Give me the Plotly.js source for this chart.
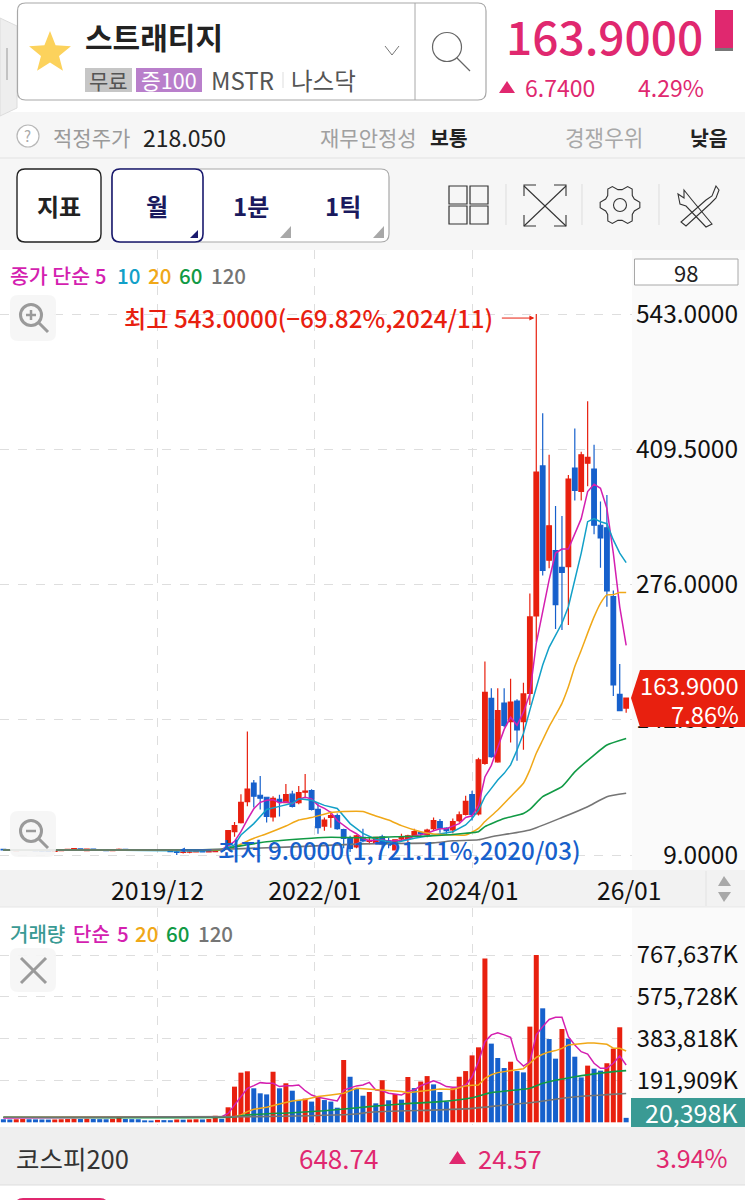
<!DOCTYPE html>
<html><head><meta charset="utf-8">
<script src="https://cdn.plot.ly/plotly-3.0.1.min.js"></script>
<style>html,body{margin:0;padding:0;background:#fff}#c{width:745px;height:1200px}</style>
</head><body><div id="c"></div>
<script>
// ---- price candles, one per month from 2017/12 to 2026/01
const opens=[14.5,14.2,13,13.6,14.4,13.8,13,13,12.6,13.2,14,14.6,15,13.4,14.8,14.4,13.8,13.4,14,14.6,14,13.6,13.8,14.2,13.8,14.4,13.6,12,11.6,11.8,12,12.4,12,12.4,13.6,19,32,41,61.6,80,68,66,46.5,64,60.6,69,60.6,71,72.5,54,37.6,46,48,34,25.5,17,26.5,22.5,21,27,23,14,25,25.5,28,31,29,35,42,35.6,33.7,43,49,68.5,49.5,99.5,163.6,101,159,140.6,161,140.6,168.6,245,393,300,309.5,293,293.6,391,368,395.7,390,334.5,332,264,167.6,154];
const highs=[15,15,14.8,15,15,14.4,14,13.6,13.8,14.8,15.2,15.8,15.4,15.4,15.4,15,14.4,15,15.4,15.2,14.6,14.4,14.8,14.6,15,15,14,14.5,13,13.2,13.4,13.4,13.4,14.4,15,33.5,41.6,69,131,83,87,66.5,67,68.5,79,72.5,77,89,74,60,46,52,50,35,28,29,35,26,27,29,26,24.5,30,29,35,32,35,46,44.5,36.5,45,52,67.5,72.5,105,200,173.5,173.5,173.5,183,162.7,179,267,543,445,404,353.5,343.6,384,430,407,457,414,358,364.4,270,197.6,163.9];
const lows=[13.5,13,12.5,13,13.4,12.6,12,12,12.2,12.8,13.6,14,13.4,13,14,13.6,13,13,13.4,13.8,13.4,13.2,13.2,13.4,13.2,13,12,9,10.5,10.8,11.4,11.6,11.6,12,13,18.5,27,40,57,56,54,41,42,47,60,56,59,65,53,30,33,36,34,15.6,12,15.6,21.5,19.7,20,15.6,15.6,13.5,22,16,27,28,26.5,33,31,30,30.5,41,48,43,48,98,105,100,135,120,102,113,157,219.6,285,292,232,231,236,359,359,373,325.6,292.6,254,166,151,149.5];
const closes=[14,13.8,14,14.4,13.8,13,12.8,12.6,13.2,14.2,14.6,15.2,14.2,14.8,14.4,13.8,13.4,14,14.6,14,13.6,13.8,14.2,13.8,14.4,13.6,12.4,11.5,11.8,12,12.4,12,12.4,13.6,14,33,38,61,74,67,65,47,65,62,68.5,57,70.5,72,54,36,43.5,48,35,25.5,15.6,28,23,23.5,26.5,20,20,24,27,28,32,30,33.7,43,35.6,33,42,48.7,62,49,103,169.6,106,151.5,137,160,132.4,168,244,387,290,334,256,288,380,369,404,401.6,334.5,322,269.6,176.8,151.5,163.9];

// ---- price moving averages: bar positions and values
const ma5Pos=[0,12,24,33,34,35,36,37,38,39,40,41,42,43,44,45,46,47,48,49,50,51,52,53,54,55,56,57,58,59,60,61,62,63,64,65,66,67,68,69,70,71,72,73,74,75,76,77,78,79,80,81,82,83,84,85,86,87,88,89,90,91,92,93,94,95,96,97];
const ma5=[14,13.6,14,13.4,14.5,18,22.4,32,44,54.6,61,63,63.6,60.4,61.5,59.5,64,66,64.4,58,55,51,43,38,33.5,30,25.4,23,23.5,24,22.6,23,23.5,24.6,28,29,30.5,33,35,35,37.5,40,46,47.7,58,86,97.5,115,133,145,137,150,168,218,251,280.5,307,311,311,326.6,341,367.7,375,371,351,307,254,216];
const ma10Pos=[0,15,30,34,36,37,39,41,43,45,46,48,50,52,54,56,58,61,64,67,70,72,73,74,75,76,77,78,79,80,81,82,83,84,85,86,87,88,89,90,91,92,93,94,95,96,97];
const ma10=[14,14,13,14,19,28.7,40,54,57,60,64.5,63,58,55,40,30.4,24.5,21,25.5,28.7,32,38.6,45,53.4,66.6,74.8,83,89.6,98,112.6,129,152,175,196.6,214,226,237.7,254,280.5,307,338,341,338,336,320,307,297.6];
const ma20Pos=[0,15,30,34,36,39,41,44,46,48,51,53,56,58,60,62,65,67,70,72,74,75,77,79,81,82,83,84,85,86,87,88,89,90,91,92,93,94,95,96,97];
const ma20=[14,14,13.6,14,17,25.5,30,37.6,43.5,46,51,52,52,47.5,43.5,38,32,29.7,28.7,28.7,35.3,42,53.4,66.6,79.8,93,109.4,122.5,135.7,147,158.7,175,195,211,228,244,257.4,265.7,266,268,268];
const ma60Pos=[0,20,34,36,41,48,51,56,61,67,72,74,75,78,81,82,84,87,89,92,94,97];
const ma60=[14,14,14.6,17,22,25.5,26.5,26,27,28,30.4,32,37,45,50,54,66.6,76.4,91,107.7,117.6,124];
const ma120Pos=[0,30,45,56,67,70,74,76,82,87,91,94,97];
const ma120=[14,14,17,20,21,23,24,27,33.7,46,56.7,66.6,70];

// ---- monthly volume (millions of shares; 1 = 1,000K) and the colour of each bar
const volume=[14,13,14,15,14,13.5,13,12.5,13,14,15,16,15,16,15,14.5,14,16,26,15,14.5,14,9,8,11,10,9.5,13,12,13,14,13,15,30,16,68.8,163.6,227.8,234,156,133,128,232,156,179,145,102,108.6,95,118,102,95,67,286,209,153,122,139,87,193,101,130,104,208,157,187,212,174,139,95,156,209,235,307,344,752,361,295,249,278,235,229,439,767.6,523,382,292,428,384,301,206,260,246,237,271,338,436,20.398];
const volumeSide="bbrrbbbbrrrrbrbbbrrbbbbbrbbrbrrbrrbrrrrbbbrbrbbrbrbbbrbbbrbrbrbrbrrbbbrrrrrrbbbrbbrrbbbrbbbrbbrrrb";

// ---- volume moving averages
const vol5Pos=[0,33,34,35,36,37,38,39,40,41,42,43,44,45,46,47,48,49,50,51,52,53,54,55,56,57,58,59,60,61,62,63,64,65,66,67,68,69,70,71,72,73,74,75,76,77,78,79,80,81,82,83,84,85,86,87,88,89,90,91,92,93,94,95,96,97];
const vol5=[20,23,26,41,80,118,156,168,182,179,179,164,168,168,171,145,125,115,109,105,98,148,159,167,171,183,148,145,133,130,125,141,148,168,179,190,179,164,161,161,171,209,278,370,401,411,401,390,286,258,278,401,439,472,482,482,393,355,324,313,271,248,248,271,304,263];
const vol20Pos=[0,34,36,37,38,39,41,43,45,47,49,51,53,55,57,60,62,63,66,68,70,72,73,74,75,76,77,78,79,80,81,82,83,84,85,86,87,88,89,90,91,92,93,94,95,96,97];
const vol20=[23,23,26,34,49,60,69,84,98,105,118,125,133,156,152,144,141,136,145,153,151,167,170,171,202,218,228,232,238,243,246,271,298,312,323,329,339,355,359,362,364,364,362,358,340,340,327];
const vol60Pos=[0,36,38,45,50,57,62,68,73,76,82,84,89,94,97];
const vol60=[23,24,34,44,53,72,84,95,113,136,156,179,209,229,237];
const vol120Pos=[0,40,55,57,68,73,78,82,89,94,97];
const vol120=[23,26,38,46,57,64,79,90,117,127,132];

// ---- axis labels
const priceTicks=[9,142.5,276,409.5,543];
const priceLabels=["9.0000","142.5000","276.0000","409.5000","543.0000"];
const volTicks=[191.909,383.818,575.728,767.637];
const volLabels=["191,909K","383,818K","575,728K","767,637K"];
const dateTicks=[24,48.5,73];
const dateLabels=["2019/12","2022/01","2024/01"];
const barPos=closes.map((_,i)=>i);

// ---- page geometry and helpers
const W=745,H=1200;
const FONT='"Noto Sans CJK KR","Noto Sans",sans-serif';
const RED='#e8200f',BLUE='#1660cc',PINK='#e0286f';
const MAG='#d41fb0',CYAN='#12a0c8',ORG='#f0a818',GRN='#119a45',GRY='#757575';
const px=x=>x/W, py=y=>1-y/H;
const P=(x,y)=>px(x)+','+py(y);
const shapes=[],notes=[];
function rect(x0,y0,x1,y1,fill,line,lw,layer){shapes.push({type:'rect',xref:'paper',yref:'paper',x0:px(x0),x1:px(x1),y0:py(y0),y1:py(y1),fillcolor:fill||'rgba(0,0,0,0)',line:{color:line||'rgba(0,0,0,0)',width:line?(lw||1):0},layer:layer||'above'});}
function line(x0,y0,x1,y1,c,w,layer){shapes.push({type:'line',xref:'paper',yref:'paper',x0:px(x0),x1:px(x1),y0:py(y0),y1:py(y1),line:{color:c,width:w||1},layer:layer||'above'});}
function circ(cx,cy,r,c,w,fill){shapes.push({type:'circle',xref:'paper',yref:'paper',x0:px(cx-r),x1:px(cx+r),y0:py(cy+r),y1:py(cy-r),fillcolor:fill||'rgba(0,0,0,0)',line:{color:c,width:w||1},layer:'above'});}
function poly(pts,fill,c,w,closed=true){shapes.push({type:'path',xref:'paper',yref:'paper',path:'M'+pts.map(p=>P(p[0],p[1])).join('L')+(closed?'Z':''),fillcolor:fill||'rgba(0,0,0,0)',line:{color:c||'rgba(0,0,0,0)',width:c?(w||1):0},layer:'above'});}
function rr(x0,y0,x1,y1,r,fill,c,w){const p='M'+P(x0+r,y0)+'L'+P(x1-r,y0)+'Q'+P(x1,y0)+' '+P(x1,y0+r)+'L'+P(x1,y1-r)+'Q'+P(x1,y1)+' '+P(x1-r,y1)+'L'+P(x0+r,y1)+'Q'+P(x0,y1)+' '+P(x0,y1-r)+'L'+P(x0,y0+r)+'Q'+P(x0,y0)+' '+P(x0+r,y0)+'Z';shapes.push({type:'path',xref:'paper',yref:'paper',path:p,fillcolor:fill||'rgba(0,0,0,0)',line:{color:c||'rgba(0,0,0,0)',width:c?(w||1):0},layer:'above'});}
function txt(s,x,y,size,color,anchor,weight){const a=anchor||'left';notes.push({text:s,xref:'paper',yref:'paper',x:px(x),y:py(y),xanchor:a,yanchor:'middle',xshift:a==='left'?-2:(a==='right'?2:0),showarrow:false,font:{family:FONT,size:size,color:color,weight:weight||400}});}

// backgrounds
rect(0,112,W,250,'#f6f6f6',null,0,'below');
line(0,158,W,158,'#e2e2e2',1,'below');
rect(632,250,W,870,'#fafafa',null,0,'below');
rect(632,908,W,1127,'#fafafa',null,0,'below');
rect(0,870,W,907,'#f2f2f2',null,0,'below');
line(0,907,W,907,'#e6e6e6',1,'below');
rect(0,1129,W,1185,'#efefef',null,0,'below');
line(0,1128,W,1128,'#dddddd',1,'below');
line(0,1185,W,1185,'#dddddd',1,'below');

// search box
poly([[0,18],[17,26],[17,108],[0,116]],'#eeeeee','#dcdcdc',1);
line(7,48,7,80,'#b5b5b5',1.5);
rr(17.5,3,486,100,8,'#ffffff','#a8a8a8',1.2);
line(415,3,415,100,'#a8a8a8',1);
const star=[];for(let k=0;k<10;k++){const r=k%2?9.5:22,a=-Math.PI/2+k*Math.PI/5;star.push([50+r*Math.cos(a),53+r*Math.sin(a)]);}
poly(star,'#fcd25c');
txt('스트래티지',85,36,30,'#222222','left',700);
rect(85,68,132,92,'#c6c6c6');txt('무료',108.5,80,21,'#555555','center');
rect(136,68,202,92,'#b97fcb');txt('증100',169,80,21.5,'#ffffff','center');
txt('MSTR',211,80,24,'#555555');line(283,72,283,88,'#dddddd',1);txt('나스닥',291,80,23.5,'#555555');
poly([[385,46],[392,55],[399,46]],null,'#777777',1,false);
circ(447,47,14.5,'#666666',1.2);line(457,58,470,71,'#666666',1.2);

// quote
txt('163.9000',703,35,46,PINK,'right',500);
rect(715,10,733,48,PINK);rect(715,48,733,51,'#777777');
poly([[499,93],[515,93],[507,81]],PINK);
txt('6.7400',525,87,23,PINK);txt('4.29%',638,87,23,PINK);

// second row
circ(28,136,11,'#b8b8b8',1.2,'#ffffff');txt('?',28,136,15,'#aaaaaa','center');
txt('적정주가',53,137,21,'#9a9a9a');txt('218.050',143,137,23,'#222222');
txt('재무안정성',320,137,21,'#a0a0a0');txt('보통',430,137,20.5,'#222222','left',700);
txt('경쟁우위',565,137,21.3,'#a8a8a8');txt('낮음',690,137,20.5,'#222222','left',700);

// buttons
rr(17,169,101,242,8,'#ffffff','#222222',1.4);txt('지표',59,206,24,'#222222','center',700);
rr(112,169,389,242,8,'#ffffff','#a8a8a8',1.2);
rr(112,169,203,242,8,'#ffffff','#1a1a6e',1.6);
txt('월',157,206,24,'#1a1a5e','center',700);txt('1분',251,206,24,'#1a1a5e','center',700);txt('1틱',343,206,24,'#1a1a5e','center',700);
poly([[190,238],[198,238],[198,230]],'#1a1a6e');poly([[280,238],[291,238],[291,226]],'#a8a8a8');poly([[373,238],[384,238],[384,226]],'#a8a8a8');

// tool icons
[[449,186],[470,186],[449,206],[470,206]].forEach(a=>rect(a[0],a[1],a[0]+18,a[1]+18,null,'#333333',1.2));
[506,582,659].forEach(x=>line(x,184,x,225,'#dddddd',1));
line(524,186,566,226,'#333333',1.1);line(566,186,524,226,'#333333',1.1);
poly([[524,196],[524,185],[536,185]],null,'#333333',1.1,false);poly([[554,185],[566,185],[566,196]],null,'#333333',1.1,false);
poly([[524,215],[524,226],[536,226]],null,'#333333',1.1,false);poly([[554,226],[566,226],[566,215]],null,'#333333',1.1,false);
const gear=[];for(let k=0;k<24;k++){const m=k%4,r=(m===0||m===1)?20:15.5,a=(k-0.5)*Math.PI/12;gear.push([620+r*Math.cos(a),205+r*Math.sin(a)]);}
poly(gear,null,'#333333',1.1);circ(620,205,6.5,'#333333',1.1);
poly([[684,190],[692,200],[712,224],[706,227],[686,206],[680,204],[678,194],[684,198]],null,'#333333',1.1);
poly([[716,186],[712,196],[706,200],[681,222],[686,226],[710,204],[716,198],[719,190]],null,'#333333',1.1);

// chart chrome
txt('종가 단순 5',10,275,20.5,MAG,'left',500);txt('10',117,275,20.5,CYAN,'left',500);txt('20',148,275,20.5,ORG,'left',500);txt('60',179,275,20.5,GRN,'left',500);txt('120',211,275,20.5,GRY,'left',500);
rect(634.5,259,738,285,'#ffffff','#a8a8a8',1);txt('98',686,271.5,22,'#222222','center');
rr(10,295,56,341,8,'rgba(245,245,245,0.9)');circ(31,315,10.5,'#9a9a9a',3);line(26,315,36,315,'#9a9a9a',2.5);line(31,310,31,320,'#9a9a9a',2.5);line(39,323,48,332,'#9a9a9a',3);
rr(10,811,56,857,8,'rgba(245,245,245,0.9)');circ(31,831,10.5,'#9a9a9a',3);line(26,831,36,831,'#9a9a9a',2.5);line(39,839,48,848,'#9a9a9a',3);
rr(10,948,56,992,8,'rgba(245,245,245,0.9)');line(21,958,46,983,'#9a9a9a',3);line(46,958,21,983,'#9a9a9a',3);
poly([[724,876],[718,886],[731,886]],'#a8a8a8');poly([[718,892],[731,892],[724,902]],'#a8a8a8');line(706,871,706,906,'#e2e2e2',1);
txt('26/01',629,889,24.7,'#111111','center');

// data-anchored callouts
notes.push({text:'최고 543.0000(−69.82%,2024/11)',xref:'x',yref:'y',x:83,y:540,xanchor:'right',yanchor:'middle',xshift:-41,showarrow:false,font:{family:FONT,size:24.2,color:RED,weight:500}});
notes.push({text:'',xref:'x',yref:'y',x:82.7,y:539,axref:'pixel',ayref:'pixel',ax:-34,ay:0,showarrow:true,arrowhead:2,arrowsize:1,arrowwidth:1,arrowcolor:RED});
notes.push({text:'최저 9.0000(1,721.11%,2020/03)',xref:'x',yref:'y',x:27,y:14,xanchor:'left',yanchor:'middle',xshift:39,showarrow:false,font:{family:FONT,size:24.2,color:BLUE,weight:500}});
notes.push({text:'',xref:'x',yref:'y',x:27.5,y:14,axref:'pixel',ayref:'pixel',ax:33,ay:0,showarrow:true,arrowhead:2,arrowsize:1,arrowwidth:1,arrowcolor:BLUE});

// current-price tag
poly([[631,698],[640,670],[745,670],[745,727],[640,727]],RED);
txt('163.9000',739,685,23.7,'#ffffff','right');txt('7.86%',739,714,23.7,'#ffffff','right');

// volume panel text
txt('거래량',10,933,20,'#3a9a94','left',500);txt('단순',73,933,20,MAG,'left',500);txt('5',117,933,20.5,MAG,'left',500);txt('20',135,933,20.5,ORG,'left',500);txt('60',166,933,20.5,GRN,'left',500);txt('120',198,933,20.5,GRY,'left',500);
rect(631,1098,745,1127,'#3a9a94');txt('20,398K',738,1112,25,'#ffffff','right');

// bottom row
txt('코스피200',16,1157,25.5,'#333333');txt('648.74',299,1157,26,PINK);
poly([[449,1164],[466,1164],[457.5,1151]],PINK);txt('24.57',478,1157,25.5,PINK);txt('3.94%',656,1157,25,PINK);
rr(15,1198,108,1215,8,PINK);

// traces
const ln=(name,x,y,c,ya,xa,w,shape)=>({type:'scatter',mode:'lines',name,x,y,xaxis:xa,yaxis:ya,line:{color:c,width:w||1.5,shape:shape||'linear',smoothing:0.5},hoverinfo:'skip'});
const traces=[
 {type:'candlestick',name:'가격',x:barPos,open:opens,high:highs,low:lows,close:closes,xaxis:'x',yaxis:'y',whiskerwidth:0,
  increasing:{line:{color:RED,width:1.2},fillcolor:RED},decreasing:{line:{color:BLUE,width:1.2},fillcolor:BLUE},hoverinfo:'skip'},
 ln('5',ma5Pos,ma5,MAG,'y','x',1.5),
 ln('10',ma10Pos,ma10,CYAN,'y','x',1.5),
 ln('20',ma20Pos,ma20,ORG,'y','x',1.5,'spline'),
 ln('60',ma60Pos,ma60,GRN,'y','x',1.6,'spline'),
 ln('120',ma120Pos,ma120,GRY,'y','x',1.6,'spline'),
 {type:'bar',name:'거래량',x:barPos,y:volume,xaxis:'x2',yaxis:'y2',marker:{color:volume.map((_,i)=>volumeSide[i]==='r'?RED:BLUE),line:{width:0}},hoverinfo:'skip'},
 ln('v5',vol5Pos,vol5,MAG,'y2','x2',1.5),
 ln('v20',vol20Pos,vol20,ORG,'y2','x2',1.5),
 ln('v60',vol60Pos,vol60,GRN,'y2','x2',1.6,'spline'),
 ln('v120',vol120Pos,vol120,GRY,'y2','x2',1.6,'spline')
];
const xRange=[-0.53,97.91];
const GRID='#dedede';
const layout={
 width:W,height:H,margin:{l:0,r:0,t:0,b:0,pad:0},paper_bgcolor:'#ffffff',plot_bgcolor:'rgba(0,0,0,0)',showlegend:false,
 hovermode:false,dragmode:false,bargap:0.22,boxgap:0.1,boxgroupgap:0.2,
 font:{family:FONT,color:'#111111'},
 xaxis:{domain:[0,632/W],range:xRange,anchor:'y',rangeslider:{visible:false},tickmode:'array',tickvals:dateTicks,ticktext:dateLabels,ticklabelstandoff:6,
  tickfont:{family:FONT,size:25,color:'#111111'},ticks:'',showgrid:true,gridcolor:GRID,griddash:'dash',gridwidth:1,zeroline:false,showline:false,fixedrange:true},
 yaxis:{domain:[py(868),py(250)],range:[-3.83,606.17],anchor:'free',position:738/W,side:'left',tickmode:'array',tickvals:priceTicks,ticktext:priceLabels,
  tickfont:{family:FONT,size:24.5,color:'#111111'},ticks:'',showgrid:true,gridcolor:GRID,griddash:'dash',gridwidth:1,zeroline:false,showline:false,fixedrange:true},
 xaxis2:{domain:[0,632/W],range:xRange,anchor:'y2',tickmode:'array',tickvals:dateTicks,showticklabels:false,ticks:'',showgrid:true,gridcolor:GRID,griddash:'dash',gridwidth:1,zeroline:false,showline:false,fixedrange:true},
 yaxis2:{domain:[py(1125),py(908)],range:[-12.4,983.3],anchor:'free',position:738/W,side:'left',tickmode:'array',tickvals:volTicks,ticktext:volLabels,
  tickfont:{family:FONT,size:23.8,color:'#111111'},ticks:'',showgrid:true,gridcolor:GRID,griddash:'dash',gridwidth:1,zeroline:false,showline:false,fixedrange:true},
 shapes,annotations:notes
};
Plotly.newPlot('c',traces,layout,{displayModeBar:false,staticPlot:true,responsive:false});
</script></body></html>
